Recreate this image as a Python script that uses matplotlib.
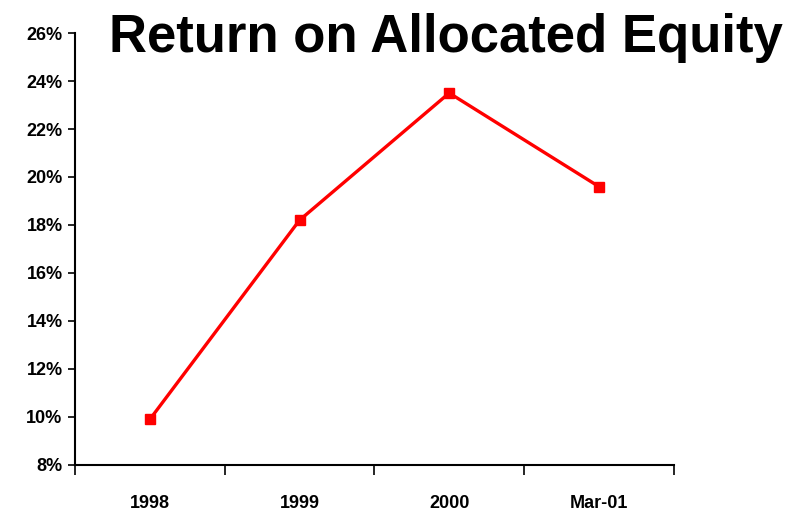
import numpy as np
import matplotlib.pyplot as plt
from matplotlib.ticker import FixedLocator, PercentFormatter

plt.rcParams['font.family'] = ['Liberation Sans', 'DejaVu Sans']

# data
periods = ['1998', '1999', '2000', 'Mar-01']
roe = [9.9, 18.2, 23.5, 19.6]
y_ticks = np.arange(8, 27, 2)

fig = plt.figure(figsize=(7.94, 5.16), dpi=100)
ax = fig.add_axes([0.0945, 0.099, 0.754, 0.837])

x = np.arange(len(periods))
ax.plot(x, roe, color='#ff0000', linewidth=2.4, marker='s', markersize=7,
        markerfacecolor='#ff0000', markeredgecolor='#ff0000', clip_on=False)

ax.set_xlim(-0.5, len(periods) - 0.5)
ax.set_ylim(8, 26)

# y axis
ax.set_yticks(y_ticks)
ax.yaxis.set_major_formatter(PercentFormatter(decimals=0))
ax.tick_params(axis='y', direction='out', length=5, width=1.2, labelsize=13, pad=4)

# x axis: tick marks between categories, labels centred on them
ax.xaxis.set_major_locator(FixedLocator(np.arange(-0.5, len(periods), 1.0)))
ax.xaxis.set_major_formatter(plt.NullFormatter())
ax.xaxis.set_minor_locator(FixedLocator(x))
ax.set_xticklabels(periods, minor=True)
ax.tick_params(axis='x', which='major', direction='out', length=7, width=1.2)
ax.tick_params(axis='x', which='minor', length=0, labelsize=13, pad=22)

for lbl in ax.get_yticklabels() + ax.get_xticklabels(minor=True):
    lbl.set_fontweight('bold')

for side in ['top', 'right']:
    ax.spines[side].set_visible(False)
for side in ['left', 'bottom']:
    ax.spines[side].set_linewidth(1.5)

fig.text(0.562, 0.927, 'Return on Allocated Equity', ha='center', va='center',
         fontsize=38, fontweight='bold')

fig.savefig('out.png', dpi=100)
